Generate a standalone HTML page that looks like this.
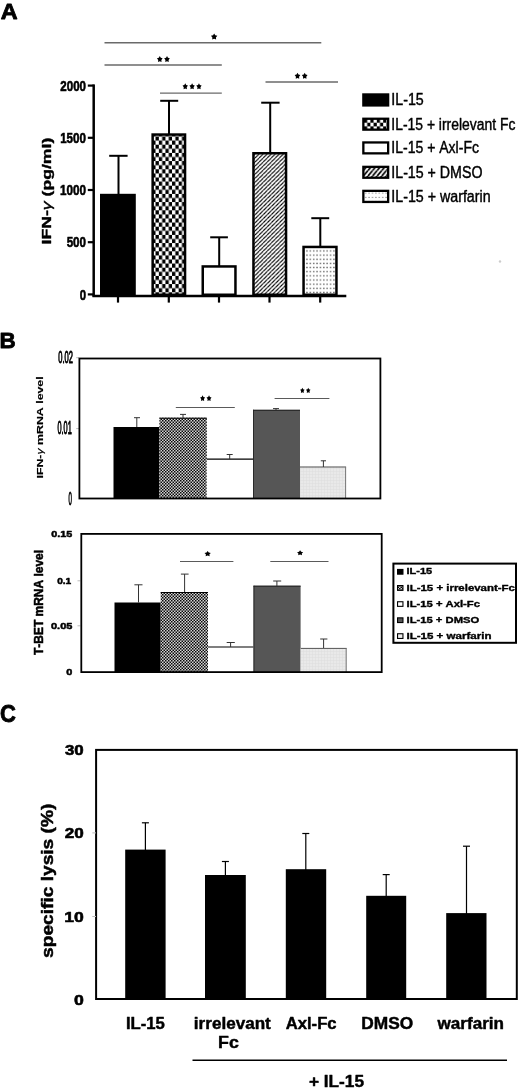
<!DOCTYPE html>
<html><head><meta charset="utf-8"><title>Figure</title>
<style>
html,body{margin:0;padding:0;background:#fff;width:520px;height:1090px;overflow:hidden}
svg{display:block;will-change:transform}
text{font-family:"Liberation Sans",sans-serif;font-kerning:none}
</style></head><body>
<svg width="520" height="1090" viewBox="0 0 520 1090">
<defs>
<pattern id="chkA" patternUnits="userSpaceOnUse" x="158.85" y="243.1" width="6.6" height="8.2">
 <rect width="6.6" height="8.2" fill="#fff"/>
 <rect x="3.3" y="0" width="3.3" height="4.1" fill="#000"/>
 <rect x="0" y="4.1" width="3.3" height="4.1" fill="#000"/>
</pattern>
<pattern id="chkL" patternUnits="userSpaceOnUse" x="364" y="119" width="6.4" height="7.4">
 <rect width="6.4" height="7.4" fill="#fff"/>
 <rect x="0" y="0" width="3.2" height="3.7" fill="#000"/>
 <rect x="3.2" y="3.7" width="3.2" height="3.7" fill="#000"/>
</pattern>
<pattern id="hatchA" patternUnits="userSpaceOnUse" x="0" y="0" width="4.05" height="4.05">
 <rect width="4.05" height="4.05" fill="#fff"/>
 <path d="M-4.05,4.05 L0,0 M0,4.05 L4.05,0 M4.05,4.05 L8.1,0" stroke="#000" stroke-width="1.1"/>
</pattern>
<pattern id="hatchL" patternUnits="userSpaceOnUse" x="0" y="0" width="4.6" height="5.5">
 <rect width="4.6" height="5.5" fill="#fff"/>
 <path d="M-4.6,5.5 L0,0 M0,5.5 L4.6,0 M4.6,5.5 L9.2,0" stroke="#000" stroke-width="1.7"/>
</pattern>
<pattern id="dotA" patternUnits="userSpaceOnUse" x="305.3" y="248.9" width="3.37" height="4.15">
 <rect width="3.37" height="4.15" fill="#fff"/>
 <rect x="1.0" y="1.4" width="1.3" height="1.3" fill="#505050"/>
</pattern>
<pattern id="dotL" patternUnits="userSpaceOnUse" x="364" y="191" width="3.4" height="4.3">
 <rect width="3.4" height="4.3" fill="#fff"/>
 <rect x="1.2" y="1.6" width="1.0" height="1.0" fill="#666"/>
</pattern>
<pattern id="chkB" patternUnits="userSpaceOnUse" x="0" y="0" width="3" height="3">
 <rect width="3" height="3" fill="#d4d4d4"/>
 <rect x="0" y="0" width="1.5" height="1.5" fill="#080808"/>
 <rect x="1.5" y="1.5" width="1.5" height="1.5" fill="#080808"/>
</pattern>
<pattern id="ltB" patternUnits="userSpaceOnUse" x="0" y="0" width="3" height="3">
 <rect width="3" height="3" fill="#e9e9e9"/>
 <rect x="0" y="0" width="3" height="0.5" fill="#dedede"/>
 <rect x="0" y="0" width="0.5" height="3" fill="#dedede"/>
</pattern>
</defs>
<rect width="520" height="1090" fill="#fff"/><text x="0.82" y="19.10" font-size="22.82" font-weight="bold" textLength="16.90" lengthAdjust="spacingAndGlyphs" fill="#000" stroke="#000" stroke-width="0.80" stroke-linejoin="round">A</text>
<line x1="104.50" y1="42.80" x2="321.30" y2="42.80" stroke="#6a6a6a" stroke-width="1.50"/>
<polygon points="214.15,33.45 215.24,35.32 217.35,35.78 215.91,37.40 216.13,39.55 214.15,38.68 212.17,39.55 212.39,37.40 210.95,35.78 213.06,35.32" fill="#000"/>
<line x1="104.50" y1="65.00" x2="221.80" y2="65.00" stroke="#6a6a6a" stroke-width="1.40"/>
<polygon points="159.79,55.95 160.76,57.82 162.63,58.28 161.35,59.90 161.55,62.05 159.79,61.18 158.04,62.05 158.23,59.90 156.95,58.28 158.83,57.82" fill="#000"/><polygon points="167.01,55.95 167.97,57.82 169.85,58.28 168.57,59.90 168.76,62.05 167.01,61.18 165.25,62.05 165.45,59.90 164.17,58.28 166.04,57.82" fill="#000"/>
<line x1="160.00" y1="93.10" x2="221.80" y2="93.10" stroke="#6a6a6a" stroke-width="1.40"/>
<polygon points="185.25,83.25 186.16,85.12 187.95,85.58 186.73,87.20 186.92,89.35 185.25,88.48 183.58,89.35 183.76,87.20 182.55,85.58 184.33,85.12" fill="#000"/><polygon points="192.10,83.25 193.02,85.12 194.80,85.58 193.58,87.20 193.77,89.35 192.10,88.48 190.43,89.35 190.62,87.20 189.40,85.58 191.18,85.12" fill="#000"/><polygon points="198.95,83.25 199.87,85.12 201.65,85.58 200.44,87.20 200.62,89.35 198.95,88.48 197.28,89.35 197.47,87.20 196.25,85.58 198.04,85.12" fill="#000"/>
<line x1="265.50" y1="82.00" x2="338.00" y2="82.00" stroke="#6a6a6a" stroke-width="1.40"/>
<polygon points="297.49,72.75 298.46,74.62 300.33,75.08 299.05,76.70 299.25,78.85 297.49,77.98 295.74,78.85 295.93,76.70 294.65,75.08 296.53,74.62" fill="#000"/><polygon points="304.71,72.75 305.67,74.62 307.55,75.08 306.27,76.70 306.46,78.85 304.71,77.98 302.95,78.85 303.15,76.70 301.87,75.08 303.74,74.62" fill="#000"/>
<line x1="93.70" y1="84.40" x2="93.70" y2="296.50" stroke="#000" stroke-width="2.50"/>
<line x1="87.80" y1="85.60" x2="93.70" y2="85.60" stroke="#000" stroke-width="2.20"/>
<line x1="87.80" y1="137.80" x2="93.70" y2="137.80" stroke="#000" stroke-width="2.20"/>
<line x1="87.80" y1="190.00" x2="93.70" y2="190.00" stroke="#000" stroke-width="2.20"/>
<line x1="87.80" y1="242.20" x2="93.70" y2="242.20" stroke="#000" stroke-width="2.20"/>
<line x1="87.80" y1="294.40" x2="93.70" y2="294.40" stroke="#000" stroke-width="2.20"/>
<text x="60.30" y="90.76" font-size="14.83" font-weight="bold" textLength="25.67" lengthAdjust="spacingAndGlyphs" fill="#000" stroke="#000" stroke-width="0.60" stroke-linejoin="round">2000</text>
<text x="60.17" y="143.06" font-size="14.83" font-weight="bold" textLength="25.81" lengthAdjust="spacingAndGlyphs" fill="#000" stroke="#000" stroke-width="0.60" stroke-linejoin="round">1500</text>
<text x="59.96" y="195.16" font-size="14.83" font-weight="bold" textLength="26.02" lengthAdjust="spacingAndGlyphs" fill="#000" stroke="#000" stroke-width="0.60" stroke-linejoin="round">1000</text>
<text x="66.64" y="247.36" font-size="14.83" font-weight="bold" textLength="19.33" lengthAdjust="spacingAndGlyphs" fill="#000" stroke="#000" stroke-width="0.60" stroke-linejoin="round">500</text>
<text x="79.65" y="299.56" font-size="14.83" font-weight="bold" textLength="6.31" lengthAdjust="spacingAndGlyphs" fill="#000" stroke="#000" stroke-width="0.60" stroke-linejoin="round">0</text>
<g transform="translate(53.70,243.50) rotate(-90)"><text x="-0.97" y="-3.10" font-size="13.67" font-weight="bold" textLength="106.84" lengthAdjust="spacingAndGlyphs" fill="#000" stroke="#000" stroke-width="0.40" stroke-linejoin="round">IFN-<tspan font-weight="normal" font-style="italic">γ</tspan> (pg/ml)</text></g>
<line x1="92.40" y1="295.90" x2="346.30" y2="295.90" stroke="#000" stroke-width="2.50"/>
<line x1="118.00" y1="297.00" x2="118.00" y2="302.60" stroke="#000" stroke-width="2.20"/>
<line x1="168.80" y1="297.00" x2="168.80" y2="302.60" stroke="#000" stroke-width="2.20"/>
<line x1="219.00" y1="297.00" x2="219.00" y2="302.60" stroke="#000" stroke-width="2.20"/>
<line x1="269.50" y1="297.00" x2="269.50" y2="302.60" stroke="#000" stroke-width="2.20"/>
<line x1="320.20" y1="297.00" x2="320.20" y2="302.60" stroke="#000" stroke-width="2.20"/>
<rect x="100.00" y="193.80" width="35.80" height="102.20" fill="#000"/>
<rect x="152.65" y="134.55" width="32.40" height="160.20" fill="url(#chkA)" stroke="#000" stroke-width="2.50"/>
<rect x="202.75" y="266.45" width="32.70" height="28.30" fill="#fff" stroke="#000" stroke-width="2.50"/>
<rect x="253.45" y="153.25" width="32.60" height="141.50" fill="url(#hatchA)" stroke="#000" stroke-width="2.50"/>
<rect x="303.55" y="246.95" width="32.90" height="47.80" fill="url(#dotA)" stroke="#000" stroke-width="2.50"/>
<line x1="118.50" y1="194.50" x2="118.50" y2="155.80" stroke="#000" stroke-width="2.00"/><line x1="109.20" y1="155.80" x2="127.60" y2="155.80" stroke="#000" stroke-width="2.00"/>
<line x1="169.00" y1="134.00" x2="169.00" y2="100.80" stroke="#000" stroke-width="2.00"/><line x1="160.20" y1="100.80" x2="178.20" y2="100.80" stroke="#000" stroke-width="2.00"/>
<line x1="219.20" y1="266.00" x2="219.20" y2="237.30" stroke="#000" stroke-width="2.00"/><line x1="210.20" y1="237.30" x2="227.90" y2="237.30" stroke="#000" stroke-width="2.00"/>
<line x1="270.20" y1="153.50" x2="270.20" y2="102.70" stroke="#000" stroke-width="2.00"/><line x1="261.20" y1="102.70" x2="279.60" y2="102.70" stroke="#000" stroke-width="2.00"/>
<line x1="320.30" y1="247.00" x2="320.30" y2="218.20" stroke="#000" stroke-width="2.00"/><line x1="311.30" y1="218.20" x2="329.20" y2="218.20" stroke="#000" stroke-width="2.00"/>
<rect x="363.35" y="94.45" width="24.80" height="11.00" fill="#000" stroke="#000" stroke-width="2.30"/>
<text x="391.29" y="105.44" font-size="15.81" font-weight="normal" textLength="32.49" lengthAdjust="spacingAndGlyphs" fill="#000" stroke="#000" stroke-width="0.42" stroke-linejoin="round">IL-15</text>
<rect x="363.35" y="118.75" width="24.80" height="10.90" fill="url(#chkL)" stroke="#000" stroke-width="2.30"/>
<text x="391.33" y="129.69" font-size="15.81" font-weight="normal" textLength="124.03" lengthAdjust="spacingAndGlyphs" fill="#000" stroke="#000" stroke-width="0.42" stroke-linejoin="round">IL-15 + irrelevant Fc</text>
<rect x="363.35" y="142.45" width="24.80" height="10.90" fill="#fff" stroke="#000" stroke-width="2.30"/>
<text x="391.32" y="153.39" font-size="15.81" font-weight="normal" textLength="87.64" lengthAdjust="spacingAndGlyphs" fill="#000" stroke="#000" stroke-width="0.42" stroke-linejoin="round">IL-15 + Axl-Fc</text>
<rect x="363.35" y="166.85" width="24.80" height="10.90" fill="url(#hatchL)" stroke="#000" stroke-width="2.30"/>
<text x="391.30" y="177.79" font-size="15.81" font-weight="normal" textLength="91.17" lengthAdjust="spacingAndGlyphs" fill="#000" stroke="#000" stroke-width="0.42" stroke-linejoin="round">IL-15 + DMSO</text>
<rect x="363.35" y="190.85" width="24.80" height="11.10" fill="url(#dotL)" stroke="#000" stroke-width="2.30"/>
<text x="391.30" y="201.89" font-size="15.81" font-weight="normal" textLength="99.32" lengthAdjust="spacingAndGlyphs" fill="#000" stroke="#000" stroke-width="0.42" stroke-linejoin="round">IL-15 + warfarin</text>
<text x="-0.60" y="348.40" font-size="22.53" font-weight="bold" textLength="16.22" lengthAdjust="spacingAndGlyphs" fill="#000" stroke="#000" stroke-width="0.80" stroke-linejoin="round">B</text>
<line x1="76.20" y1="357.70" x2="79.00" y2="357.70" stroke="#bbb" stroke-width="1.00"/>
<line x1="76.20" y1="428.60" x2="79.00" y2="428.60" stroke="#bbb" stroke-width="1.00"/>
<text x="58.31" y="362.83" font-size="17.37" font-weight="normal" textLength="14.67" lengthAdjust="spacingAndGlyphs" fill="#000" stroke="#000" stroke-width="1.00" stroke-linejoin="round">0.02</text>
<text x="57.51" y="434.32" font-size="18.08" font-weight="normal" textLength="14.24" lengthAdjust="spacingAndGlyphs" fill="#000" stroke="#000" stroke-width="1.00" stroke-linejoin="round">0.01</text>
<text x="68.46" y="505.12" font-size="18.08" font-weight="normal" textLength="3.37" lengthAdjust="spacingAndGlyphs" fill="#000" stroke="#000" stroke-width="1.00" stroke-linejoin="round">0</text>
<g transform="translate(43.50,477.80) rotate(-90)"><text x="-0.75" y="-0.07" font-size="8.36" font-weight="bold" textLength="102.24" lengthAdjust="spacingAndGlyphs" fill="#000" stroke="#000" stroke-width="0.15" stroke-linejoin="round">IFN-<tspan font-weight="normal" font-style="italic">γ</tspan> mRNA level</text></g>
<rect x="113.50" y="427.00" width="45.90" height="71.60" fill="#000"/>
<rect x="159.40" y="417.70" width="47.40" height="80.90" fill="url(#chkB)"/>
<rect x="159.40" y="417.70" width="47.40" height="1.00" fill="#000"/>
<rect x="206.80" y="459.00" width="46.20" height="39.60" fill="#fff"/>
<line x1="206.80" y1="459.20" x2="253.00" y2="459.20" stroke="#000" stroke-width="1.20"/>
<rect x="253.00" y="409.80" width="47.00" height="88.80" fill="#565656"/>
<rect x="253.00" y="409.80" width="1.00" height="88.80" fill="#2a2a2a"/>
<rect x="253.00" y="409.80" width="47.00" height="1.00" fill="#222"/>
<rect x="300.00" y="466.60" width="46.10" height="32.00" fill="url(#ltB)"/>
<line x1="300.00" y1="467.00" x2="346.10" y2="467.00" stroke="#555" stroke-width="1.00"/>
<line x1="345.60" y1="467.00" x2="345.60" y2="498.60" stroke="#777" stroke-width="1.00"/>
<line x1="136.80" y1="427.00" x2="136.80" y2="417.70" stroke="#333" stroke-width="1.00"/><line x1="134.00" y1="417.70" x2="140.00" y2="417.70" stroke="#333" stroke-width="1.00"/>
<line x1="183.00" y1="418.00" x2="183.00" y2="414.40" stroke="#333" stroke-width="1.00"/><line x1="180.00" y1="414.40" x2="186.00" y2="414.40" stroke="#333" stroke-width="1.00"/>
<line x1="229.70" y1="459.00" x2="229.70" y2="454.50" stroke="#333" stroke-width="1.00"/><line x1="226.70" y1="454.50" x2="232.70" y2="454.50" stroke="#333" stroke-width="1.00"/>
<line x1="276.00" y1="410.00" x2="276.00" y2="408.60" stroke="#333" stroke-width="1.00"/><line x1="273.00" y1="408.60" x2="279.00" y2="408.60" stroke="#333" stroke-width="1.00"/>
<line x1="323.40" y1="467.00" x2="323.40" y2="460.80" stroke="#333" stroke-width="1.00"/><line x1="320.80" y1="460.80" x2="326.00" y2="460.80" stroke="#333" stroke-width="1.00"/>
<line x1="175.80" y1="407.50" x2="234.80" y2="407.50" stroke="#5a5a5a" stroke-width="1.00"/>
<polygon points="202.58,395.25 203.44,397.00 205.12,397.43 203.98,398.94 204.15,400.95 202.58,400.13 201.02,400.95 201.19,398.94 200.05,397.43 201.72,397.00" fill="#000"/><polygon points="209.02,395.25 209.88,397.00 211.55,397.43 210.41,398.94 210.58,400.95 209.02,400.13 207.45,400.95 207.62,398.94 206.48,397.43 208.16,397.00" fill="#000"/>
<line x1="274.60" y1="398.50" x2="329.40" y2="398.50" stroke="#5a5a5a" stroke-width="1.00"/>
<polygon points="302.36,387.65 303.15,389.28 304.68,389.67 303.63,391.08 303.79,392.95 302.36,392.19 300.93,392.95 301.09,391.08 300.05,389.67 301.58,389.28" fill="#000"/><polygon points="308.24,387.65 309.02,389.28 310.55,389.67 309.51,391.08 309.67,392.95 308.24,392.19 306.81,392.95 306.97,391.08 305.92,389.67 307.45,389.28" fill="#000"/>
<rect x="79.40" y="358.50" width="301.00" height="140.00" fill="none" stroke="#000" stroke-width="1.80"/>
<line x1="77.50" y1="580.80" x2="80.40" y2="580.80" stroke="#bbb" stroke-width="1.00"/>
<line x1="77.50" y1="625.80" x2="80.40" y2="625.80" stroke="#bbb" stroke-width="1.00"/>
<text x="51.32" y="537.16" font-size="9.60" font-weight="bold" textLength="21.03" lengthAdjust="spacingAndGlyphs" fill="#000" stroke="#000" stroke-width="0.50" stroke-linejoin="round">0.15</text>
<text x="57.15" y="583.66" font-size="9.60" font-weight="bold" textLength="14.08" lengthAdjust="spacingAndGlyphs" fill="#000" stroke="#000" stroke-width="0.50" stroke-linejoin="round">0.1</text>
<text x="51.02" y="629.06" font-size="9.32" font-weight="bold" textLength="21.34" lengthAdjust="spacingAndGlyphs" fill="#000" stroke="#000" stroke-width="0.50" stroke-linejoin="round">0.05</text>
<text x="66.22" y="675.26" font-size="9.60" font-weight="bold" textLength="6.08" lengthAdjust="spacingAndGlyphs" fill="#000" stroke="#000" stroke-width="0.50" stroke-linejoin="round">0</text>
<g transform="translate(42.90,655.10) rotate(-90)"><text x="0.12" y="-0.25" font-size="12.21" font-weight="bold" textLength="105.08" lengthAdjust="spacingAndGlyphs" fill="#000" stroke="#000" stroke-width="0.50" stroke-linejoin="round">T-BET mRNA level</text></g>
<rect x="114.50" y="602.50" width="46.20" height="69.70" fill="#000"/>
<rect x="160.70" y="592.00" width="47.30" height="80.20" fill="url(#chkB)"/>
<rect x="160.70" y="592.00" width="47.30" height="1.00" fill="#000"/>
<rect x="208.00" y="646.80" width="45.50" height="25.40" fill="#fff"/>
<line x1="208.00" y1="647.00" x2="253.50" y2="647.00" stroke="#000" stroke-width="1.20"/>
<rect x="253.50" y="585.70" width="47.10" height="86.50" fill="#565656"/>
<rect x="253.50" y="585.70" width="1.00" height="86.50" fill="#2a2a2a"/>
<rect x="253.50" y="585.70" width="47.10" height="1.00" fill="#222"/>
<rect x="300.60" y="648.00" width="46.10" height="24.20" fill="url(#ltB)"/>
<line x1="300.60" y1="648.40" x2="346.70" y2="648.40" stroke="#555" stroke-width="1.00"/>
<line x1="346.20" y1="648.40" x2="346.20" y2="672.20" stroke="#777" stroke-width="1.00"/>
<line x1="138.50" y1="602.50" x2="138.50" y2="584.80" stroke="#333" stroke-width="1.00"/><line x1="134.40" y1="584.80" x2="142.50" y2="584.80" stroke="#333" stroke-width="1.00"/>
<line x1="184.60" y1="592.00" x2="184.60" y2="574.10" stroke="#333" stroke-width="1.00"/><line x1="180.90" y1="574.10" x2="188.60" y2="574.10" stroke="#333" stroke-width="1.00"/>
<line x1="230.60" y1="647.00" x2="230.60" y2="642.50" stroke="#333" stroke-width="1.00"/><line x1="226.70" y1="642.50" x2="234.80" y2="642.50" stroke="#333" stroke-width="1.00"/>
<line x1="276.90" y1="586.00" x2="276.90" y2="581.00" stroke="#333" stroke-width="1.00"/><line x1="273.20" y1="581.00" x2="281.20" y2="581.00" stroke="#333" stroke-width="1.00"/>
<line x1="323.60" y1="648.00" x2="323.60" y2="639.00" stroke="#333" stroke-width="1.00"/><line x1="320.20" y1="639.00" x2="327.40" y2="639.00" stroke="#333" stroke-width="1.00"/>
<line x1="180.00" y1="561.50" x2="233.40" y2="561.50" stroke="#5a5a5a" stroke-width="1.00"/>
<polygon points="207.65,551.05 208.74,552.61 210.85,553.00 209.41,554.35 209.63,556.15 207.65,555.42 205.67,556.15 205.89,554.35 204.45,553.00 206.56,552.61" fill="#000"/>
<line x1="270.30" y1="561.50" x2="328.50" y2="561.50" stroke="#5a5a5a" stroke-width="1.00"/>
<polygon points="300.10,550.25 301.14,551.81 303.15,552.20 301.78,553.55 301.99,555.35 300.10,554.62 298.21,555.35 298.42,553.55 297.05,552.20 299.06,551.81" fill="#000"/>
<rect x="81.30" y="533.90" width="300.40" height="138.20" fill="none" stroke="#000" stroke-width="1.80"/>
<rect x="393.40" y="563.60" width="122.60" height="79.20" fill="#fff" stroke="#000" stroke-width="2.00"/>
<text x="406.54" y="574.33" font-size="8.79" font-weight="bold" textLength="25.59" lengthAdjust="spacingAndGlyphs" fill="#000" stroke="#000" stroke-width="0.35" stroke-linejoin="round">IL-15</text>
<rect x="397.55" y="569.45" width="5.40" height="4.70" fill="#000" stroke="#000" stroke-width="1.10"/>
<text x="406.51" y="590.53" font-size="8.94" font-weight="bold" textLength="108.45" lengthAdjust="spacingAndGlyphs" fill="#000" stroke="#000" stroke-width="0.35" stroke-linejoin="round">IL-15 + irrelevant-Fc</text>
<rect x="397.55" y="585.55" width="5.40" height="4.80" fill="url(#chkB)" stroke="#000" stroke-width="1.10"/>
<text x="406.52" y="606.53" font-size="8.65" font-weight="bold" textLength="73.43" lengthAdjust="spacingAndGlyphs" fill="#000" stroke="#000" stroke-width="0.35" stroke-linejoin="round">IL-15 + Axl-Fc</text>
<rect x="397.55" y="601.75" width="5.40" height="4.60" fill="#fff" stroke="#000" stroke-width="1.10"/>
<text x="406.52" y="622.73" font-size="8.79" font-weight="bold" textLength="72.77" lengthAdjust="spacingAndGlyphs" fill="#000" stroke="#000" stroke-width="0.35" stroke-linejoin="round">IL-15 + DMSO</text>
<rect x="397.55" y="617.85" width="5.40" height="4.70" fill="#555" stroke="#000" stroke-width="1.10"/>
<text x="406.50" y="638.62" font-size="8.79" font-weight="bold" textLength="84.94" lengthAdjust="spacingAndGlyphs" fill="#000" stroke="#000" stroke-width="0.35" stroke-linejoin="round">IL-15 + warfarin</text>
<rect x="397.55" y="633.75" width="5.40" height="4.70" fill="#eee" stroke="#000" stroke-width="1.10"/>
<text x="-0.00" y="721.77" font-size="23.45" font-weight="bold" textLength="15.91" lengthAdjust="spacingAndGlyphs" fill="#000" stroke="#000" stroke-width="0.80" stroke-linejoin="round">C</text>
<circle cx="500" cy="261.5" r="1.2" fill="#ccc"/>
<rect x="96.10" y="749.90" width="420.70" height="249.10" fill="none" stroke="#000" stroke-width="2.00"/>
<line x1="92.30" y1="832.90" x2="96.00" y2="832.90" stroke="#bbb" stroke-width="1.00"/>
<line x1="92.30" y1="916.50" x2="96.00" y2="916.50" stroke="#bbb" stroke-width="1.00"/>
<text x="64.91" y="754.93" font-size="15.22" font-weight="bold" textLength="18.78" lengthAdjust="spacingAndGlyphs" fill="#000" stroke="#000" stroke-width="0.60" stroke-linejoin="round">30</text>
<text x="64.71" y="838.35" font-size="15.25" font-weight="bold" textLength="18.99" lengthAdjust="spacingAndGlyphs" fill="#000" stroke="#000" stroke-width="0.60" stroke-linejoin="round">20</text>
<text x="64.19" y="921.75" font-size="15.25" font-weight="bold" textLength="19.53" lengthAdjust="spacingAndGlyphs" fill="#000" stroke="#000" stroke-width="0.60" stroke-linejoin="round">10</text>
<text x="73.90" y="1004.95" font-size="15.25" font-weight="bold" textLength="9.82" lengthAdjust="spacingAndGlyphs" fill="#000" stroke="#000" stroke-width="0.60" stroke-linejoin="round">0</text>
<g transform="translate(56.60,957.50) rotate(-90)"><text x="-0.42" y="-3.79" font-size="17.06" font-weight="bold" textLength="154.23" lengthAdjust="spacingAndGlyphs" fill="#000" stroke="#000" stroke-width="0.50" stroke-linejoin="round">specific lysis (%)</text></g>
<rect x="125.20" y="849.60" width="40.40" height="149.90" fill="#000"/>
<line x1="145.40" y1="850.60" x2="145.40" y2="822.80" stroke="#000" stroke-width="1.20"/><line x1="141.90" y1="822.80" x2="148.90" y2="822.80" stroke="#000" stroke-width="1.20"/>
<rect x="205.00" y="875.00" width="40.80" height="124.50" fill="#000"/>
<line x1="225.40" y1="876.00" x2="225.40" y2="861.50" stroke="#000" stroke-width="1.20"/><line x1="221.90" y1="861.50" x2="228.90" y2="861.50" stroke="#000" stroke-width="1.20"/>
<rect x="285.80" y="869.20" width="40.40" height="130.30" fill="#000"/>
<line x1="305.80" y1="870.20" x2="305.80" y2="833.50" stroke="#000" stroke-width="1.20"/><line x1="302.30" y1="833.50" x2="309.30" y2="833.50" stroke="#000" stroke-width="1.20"/>
<rect x="366.20" y="895.80" width="40.00" height="103.70" fill="#000"/>
<line x1="386.20" y1="896.80" x2="386.20" y2="874.60" stroke="#000" stroke-width="1.20"/><line x1="382.70" y1="874.60" x2="389.70" y2="874.60" stroke="#000" stroke-width="1.20"/>
<rect x="446.20" y="913.10" width="40.30" height="86.40" fill="#000"/>
<line x1="466.50" y1="914.10" x2="466.50" y2="846.20" stroke="#000" stroke-width="1.20"/><line x1="463.00" y1="846.20" x2="470.00" y2="846.20" stroke="#000" stroke-width="1.20"/>
<text x="125.91" y="1029.22" font-size="16.12" font-weight="bold" textLength="38.93" lengthAdjust="spacingAndGlyphs" fill="#000" stroke="#000" stroke-width="0.45" stroke-linejoin="round">IL-15</text>
<text x="193.83" y="1029.38" font-size="16.35" font-weight="bold" textLength="76.95" lengthAdjust="spacingAndGlyphs" fill="#000" stroke="#000" stroke-width="0.45" stroke-linejoin="round">irrelevant</text>
<text x="218.03" y="1047.88" font-size="17.22" font-weight="bold" textLength="20.76" lengthAdjust="spacingAndGlyphs" fill="#000" stroke="#000" stroke-width="0.45" stroke-linejoin="round">Fc</text>
<text x="285.71" y="1028.68" font-size="15.80" font-weight="bold" textLength="50.85" lengthAdjust="spacingAndGlyphs" fill="#000" stroke="#000" stroke-width="0.45" stroke-linejoin="round">Axl-Fc</text>
<text x="361.37" y="1028.68" font-size="16.40" font-weight="bold" textLength="51.94" lengthAdjust="spacingAndGlyphs" fill="#000" stroke="#000" stroke-width="0.45" stroke-linejoin="round">DMSO</text>
<text x="437.58" y="1028.68" font-size="15.80" font-weight="bold" textLength="66.46" lengthAdjust="spacingAndGlyphs" fill="#000" stroke="#000" stroke-width="0.45" stroke-linejoin="round">warfarin</text>
<line x1="192.50" y1="1060.20" x2="507.00" y2="1060.20" stroke="#000" stroke-width="1.50"/>
<text x="308.90" y="1086.78" font-size="17.37" font-weight="bold" textLength="55.16" lengthAdjust="spacingAndGlyphs" fill="#000" stroke="#000" stroke-width="0.45" stroke-linejoin="round">+ IL-15</text></svg>
</body></html>
